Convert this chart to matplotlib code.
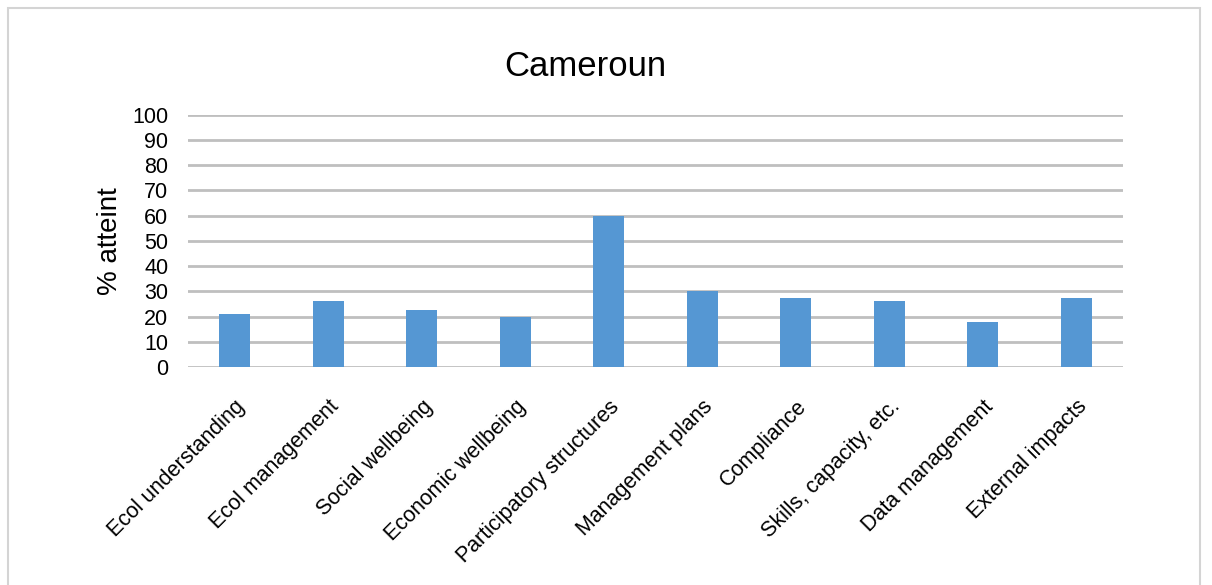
import matplotlib.pyplot as plt
from matplotlib.patches import Rectangle

categories = [
    "Ecol understanding",
    "Ecol management",
    "Social wellbeing",
    "Economic wellbeing",
    "Participatory structures",
    "Management plans",
    "Compliance",
    "Skills, capacity, etc.",
    "Data management",
    "External impacts",
]
values = [21, 26, 22.5, 20, 60, 30, 27.5, 26, 17.7, 27.5]
y_ticks = list(range(0, 101, 10))

plt.rcParams["font.family"] = ["Liberation Sans", "DejaVu Sans"]

fig = plt.figure(figsize=(12.12, 5.85), dpi=100)
ax = fig.add_axes([0.155, 0.3726, 0.7716, 0.4314])

# chart frame, open at the bottom
fig.patches.append(Rectangle((8 / 1212, -0.1), 1192 / 1212, 1.1 - 8 / 585,
                             transform=fig.transFigure, fill=False,
                             edgecolor="#d4d4d4", linewidth=1.5))

x = range(len(categories))
ax.bar(x, values, width=0.33, color="#5597d3", zorder=3)

ax.set_ylim(0, 100)
ax.set_xlim(-0.5, len(categories) - 0.5)
ax.set_yticks(y_ticks)
ax.yaxis.grid(True, color="#bfbfbf", linewidth=2, zorder=0)
ax.set_axisbelow(True)
for side in ["top", "right", "left", "bottom"]:
    ax.spines[side].set_visible(False)
ax.tick_params(axis="both", length=0, labelsize=15.5)
ax.tick_params(axis="y", pad=14)

ax.set_xticks(list(x))
ax.set_xticklabels(categories, rotation=45, ha="right", rotation_mode="anchor")
ax.tick_params(axis="x", pad=21)

ax.set_ylabel("% atteint", fontsize=20, labelpad=7)
fig.text(585 / 1212, 1 - 67 / 585, "Cameroun", fontsize=25, ha="center", va="center")

fig.savefig("out.png", dpi=100)
